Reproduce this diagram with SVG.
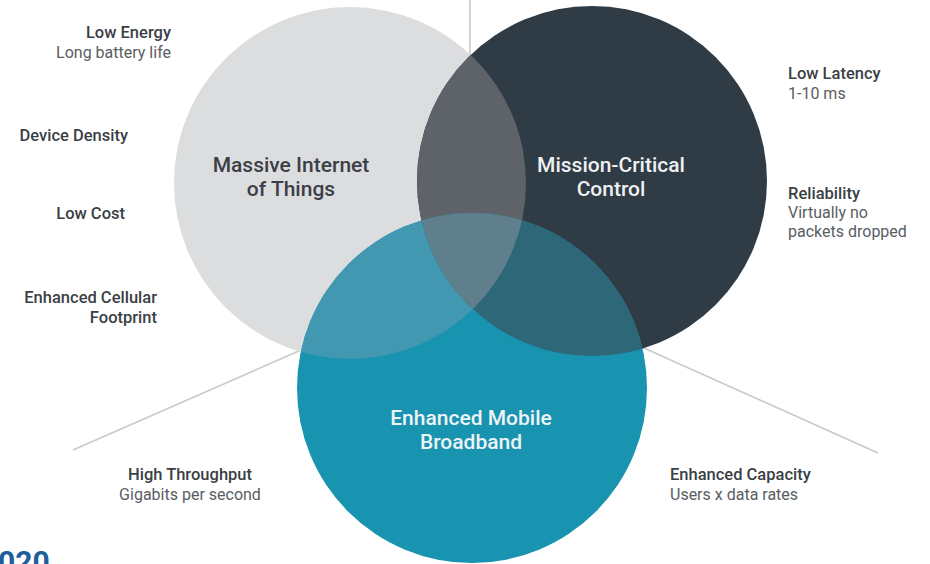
<svg xmlns="http://www.w3.org/2000/svg" width="930" height="564" viewBox="0 0 930 564">
  <style>
    text { font-family: Roboto, "Liberation Sans", sans-serif; }
    .hd { font-size: 16.5px; font-weight: 500; fill: #3a3f45; }
    .sub { font-size: 16px; font-weight: 400; fill: #595d62; }
    .big { font-size: 21px; font-weight: 500; }
    .spoke { stroke: #c9c9c9; stroke-width: 1.6; fill: none; }
  </style>
  <defs>
    <clipPath id="clipIot"><circle cx="350" cy="183" r="176"/></clipPath>
    <clipPath id="clipMcc"><circle cx="592" cy="181" r="175"/></clipPath>
  </defs>
  <rect width="930" height="564" fill="#ffffff"/>

  <!-- spokes separating the three service areas -->
  <g id="connectors">
    <line class="spoke" x1="470" y1="0" x2="470" y2="80"/>
    <line class="spoke" x1="73" y1="450" x2="470" y2="276"/>
    <line class="spoke" x1="878" y1="453" x2="470" y2="270"/>
  </g>

  <!-- Massive Internet of Things -->
  <g id="iot">
    <circle cx="350" cy="183" r="176" fill="#dcdddf"/>
  </g>

  <!-- Mission-Critical Control -->
  <g id="mcc">
    <circle cx="592" cy="181" r="175" fill="#2f3b45"/>
    <circle cx="592" cy="181" r="175" fill="#5e636a" clip-path="url(#clipIot)"/>
  </g>

  <!-- Enhanced Mobile Broadband -->
  <g id="embb">
    <circle cx="472" cy="388" r="175" fill="#1893b0"/>
    <circle cx="472" cy="388" r="175" fill="#4297b1" clip-path="url(#clipIot)"/>
    <circle cx="472" cy="388" r="175" fill="#2d6778" clip-path="url(#clipMcc)"/>
    <g clip-path="url(#clipIot)">
      <circle cx="472" cy="388" r="175" fill="#5f7f8c" clip-path="url(#clipMcc)"/>
    </g>
  </g>

  <!-- circle titles -->
  <g id="iot-label">
    <text class="big" x="291" y="172" text-anchor="middle" fill="#3b4047">Massive Internet</text>
    <text class="big" x="291" y="196" text-anchor="middle" fill="#3b4047">of Things</text>
  </g>
  <g id="mcc-label">
    <text class="big" x="611" y="172" text-anchor="middle" fill="#eef0f2">Mission-Critical</text>
    <text class="big" x="611" y="196" text-anchor="middle" fill="#eef0f2">Control</text>
  </g>
  <g id="embb-label">
    <text class="big" x="471" y="425" text-anchor="middle" fill="#eef4f6">Enhanced Mobile</text>
    <text class="big" x="471" y="449" text-anchor="middle" fill="#eef4f6">Broadband</text>
  </g>

  <!-- IoT attributes -->
  <g id="low-energy" text-anchor="end">
    <text class="hd" x="171" y="38">Low Energy</text>
    <text class="sub" x="171" y="58">Long battery life</text>
  </g>
  <g id="device-density" text-anchor="end">
    <text class="hd" x="128" y="141">Device Density</text>
  </g>
  <g id="low-cost" text-anchor="end">
    <text class="hd" x="125" y="219">Low Cost</text>
  </g>
  <g id="cellular-footprint" text-anchor="end">
    <text class="hd" x="157" y="303">Enhanced Cellular</text>
    <text class="hd" x="157" y="323">Footprint</text>
  </g>

  <!-- critical control attributes -->
  <g id="low-latency">
    <text class="hd" x="788" y="79">Low Latency</text>
    <text class="sub" x="788" y="99">1-10 ms</text>
  </g>
  <g id="reliability">
    <text class="hd" x="788" y="199">Reliability</text>
    <text class="sub" x="788" y="218">Virtually no</text>
    <text class="sub" x="788" y="237">packets dropped</text>
  </g>

  <!-- broadband attributes -->
  <g id="throughput" text-anchor="middle">
    <text class="hd" x="190" y="480">High Throughput</text>
    <text class="sub" x="190" y="500">Gigabits per second</text>
  </g>
  <g id="capacity">
    <text class="hd" x="670" y="480">Enhanced Capacity</text>
    <text class="sub" x="670" y="500">Users x data rates</text>
  </g>

  <!-- year caption, running off the lower-left corner -->
  <text x="-2" y="572" font-size="30" font-weight="700" fill="#1d5e9b">020</text>
</svg>
